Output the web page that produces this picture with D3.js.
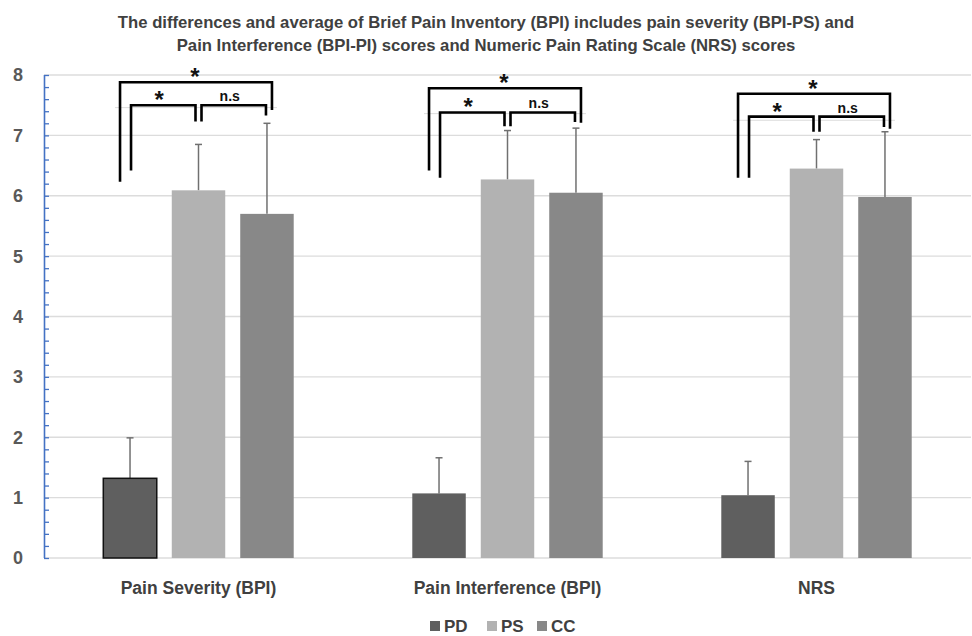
<!DOCTYPE html>
<html><head><meta charset="utf-8">
<script src="https://cdn.jsdelivr.net/npm/d3@7"></script>
<style>
html,body{margin:0;padding:0;background:#fff;}
svg{display:block;font-family:"Liberation Sans Narrow","Liberation Sans",Arial,sans-serif;}
</style></head>
<body><svg id="chart" width="972" height="636"></svg>
<script>
// ---- data ----
const categories = ["Pain Severity (BPI)", "Pain Interference (BPI)", "NRS"];
const seriesNames = ["PD", "PS", "CC"];
const PD = [1.32, 1.07, 1.04];
const PS = [6.09, 6.27, 6.45];
const CC = [5.70, 6.05, 5.98];
const PD_sd = [0.67, 0.59, 0.56];
const PS_sd = [0.76, 0.81, 0.48];
const CC_sd = [1.50, 1.07, 1.08];
const yTicks = [0, 1, 2, 3, 4, 5, 6, 7, 8];
const titleLines = [
  "The differences and average of Brief Pain Inventory (BPI) includes pain severity (BPI-PS) and",
  "Pain Interference (BPI-PI) scores and Numeric Pain Rating Scale (NRS) scores"
];
// significance brackets (heights in score units)
const bracketFrom = ["PD", "PD", "PS"];
const bracketTo = ["CC", "PS", "CC"];
const bracketLabel = ["*", "*", "n.s"];
const bracketTop = [[7.88, 7.78, 7.69], [7.50, 7.38, 7.31], [7.50, 7.38, 7.31]];
const bracketLeftEnd = [[6.23, 6.42, 6.30], [6.42, 6.30, 6.30], [7.23, 7.15, 7.06]];
const bracketRightEnd = [[7.42, 7.21, 7.11], [7.23, 7.15, 7.06], [7.33, 7.22, 7.14]];
const guideLevel = [7.46, 7.36, 7.25];

(function () {
const values = {PD, PS, CC};
const sds = {PD: PD_sd, PS: PS_sd, CC: CC_sd};
const colors = {PD: "#5f5f5f", PS: "#b2b2b2", CC: "#888888"};

const svg = d3.select("#chart");
const mLeft = 44, mRight = 971, mTop = 75, mBottom = 558;

const x0 = d3.scaleBand().domain(categories).range([mLeft, mRight]).paddingInner(0).paddingOuter(0);
const x1 = d3.scaleBand().domain(seriesNames).range([0, x0.bandwidth()]).paddingInner(0.219).paddingOuter(0.866);
const y = d3.scaleLinear().domain([0, 8]).range([mBottom, mTop]);

// title
const title = svg.append("text").attr("x", 486).attr("text-anchor", "middle")
  .attr("font-weight", "bold").attr("font-size", 16.7).attr("fill", "#404040");
titleLines.forEach((t, i) => title.append("tspan").attr("x", 486).attr("y", 28 + i * 23).text(t));

// gridlines
svg.append("g").selectAll("line").data(yTicks).join("line")
  .attr("x1", mLeft).attr("x2", mRight)
  .attr("y1", d => y(d)).attr("y2", d => y(d))
  .attr("stroke", "#dcdcdc").attr("stroke-width", 1.3);

// faint guide lines near brackets
svg.append("g").selectAll("line").data(categories).join("line")
  .attr("x1", (c) => x0(c) + x1("PD") + x1.bandwidth() / 2 - 15)
  .attr("x2", (c) => x0(c) + x1("CC") + x1.bandwidth() / 2 + 10)
  .attr("y1", (c, i) => y(guideLevel[i])).attr("y2", (c, i) => y(guideLevel[i]))
  .attr("stroke", "#dddddd").attr("stroke-width", 1);

// y axis (blue with minor ticks)
const yAxis = d3.axisRight(y).tickValues(d3.range(0, 8.001, 0.2)).tickSize(5).tickFormat("");
const ya = svg.append("g").attr("transform", `translate(${mLeft},0)`).call(yAxis);
ya.select(".domain").attr("stroke", "#4472c4").attr("stroke-width", 1.6).attr("d", `M0.5,${mBottom}V${mTop}`);
ya.selectAll(".tick line").attr("stroke", "#4472c4").attr("stroke-width", 1.3);
svg.append("g").selectAll("text").data(yTicks).join("text")
  .attr("x", 18).attr("y", d => y(d)).attr("dy", "0.36em").attr("text-anchor", "middle")
  .attr("font-weight", "bold").attr("font-size", 18).attr("fill", "#595959")
  .text(d => d);

// bars
const barData = [];
categories.forEach((c, i) => seriesNames.forEach(s => barData.push({c, i, s, v: values[s][i], sd: sds[s][i]})));
const cx = d => x0(d.c) + x1(d.s) + x1.bandwidth() / 2;

// error bars
const eb = svg.append("g").selectAll("g").data(barData).join("g");
eb.append("line").attr("x1", cx).attr("x2", cx)
  .attr("y1", d => y(d.v)).attr("y2", d => y(d.v + d.sd))
  .attr("stroke", "#707070").attr("stroke-width", 1.5);
eb.append("line").attr("x1", d => cx(d) - 3.5).attr("x2", d => cx(d) + 3.5)
  .attr("y1", d => y(d.v + d.sd)).attr("y2", d => y(d.v + d.sd))
  .attr("stroke", "#707070").attr("stroke-width", 1.5);

svg.append("g").selectAll("rect").data(barData).join("rect")
  .attr("x", d => x0(d.c) + x1(d.s)).attr("width", x1.bandwidth())
  .attr("y", d => y(d.v)).attr("height", d => y(0) - y(d.v))
  .attr("fill", d => colors[d.s])
  .attr("stroke", d => (d.s === "PD" && d.i === 0) ? "#111" : "none")
  .attr("stroke-width", 1.5);

// brackets
const offL = [-10, 1, 3], offR = [5, -3, -1];
categories.forEach((c, gi) => {
  bracketFrom.forEach((fs, bi) => {
    const xl = x0(c) + x1(fs) + x1.bandwidth() / 2 + offL[bi];
    const xr = x0(c) + x1(bracketTo[bi]) + x1.bandwidth() / 2 + offR[bi];
    const yt = y(bracketTop[bi][gi]);
    svg.append("path")
      .attr("d", `M${xl},${y(bracketLeftEnd[bi][gi])}V${yt}H${xr}V${y(bracketRightEnd[bi][gi])}`)
      .attr("fill", "none").attr("stroke", "#000").attr("stroke-width", 2.6)
      .attr("stroke-linejoin", "miter");
    const isStar = bracketLabel[bi] === "*";
    svg.append("text").attr("x", (xl + xr) / 2 - (bi === 0 ? 1 : 4))
      .attr("y", isStar ? yt + 3 : yt - 4)
      .attr("text-anchor", "middle").attr("font-weight", "bold")
      .attr("font-family", "'Liberation Sans', Arial, sans-serif")
      .attr("font-size", isStar ? 24 : 14).attr("fill", "#111")
      .text(bracketLabel[bi]);
  });
});

// category labels
svg.append("g").selectAll("text").data(categories).join("text")
  .attr("x", c => x0(c) + x0.bandwidth() / 2).attr("y", 594)
  .attr("text-anchor", "middle").attr("font-weight", "bold").attr("font-size", 17.5)
  .attr("fill", "#404040").text(c => c);

// legend
const legX = [430, 487, 537];
const lg = svg.append("g").selectAll("g").data(seriesNames).join("g")
  .attr("transform", (s, i) => `translate(${legX[i]},0)`);
lg.append("rect").attr("x", 0).attr("y", 621).attr("width", 10).attr("height", 10).attr("fill", s => colors[s]);
lg.append("text").attr("x", 14).attr("y", 632).attr("font-weight", "bold").attr("font-size", 17)
  .attr("fill", "#404040").text(s => s);
})();
</script></body></html>
